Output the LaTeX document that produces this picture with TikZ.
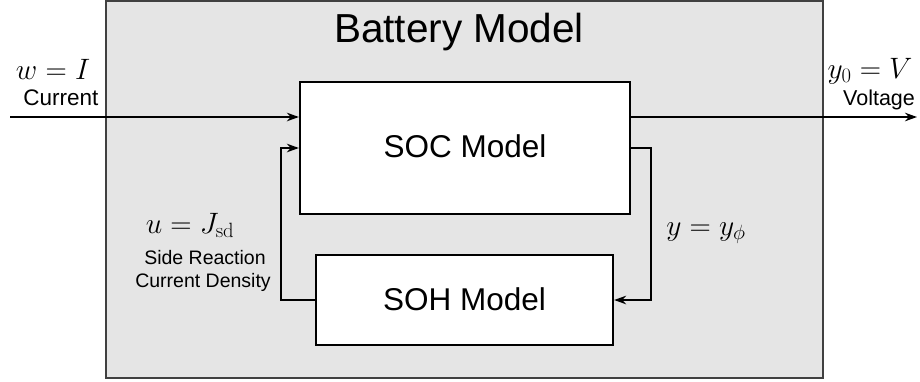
\RequirePackage{fix-cm}
\documentclass[tikz,border=0pt]{standalone}
\usepackage[no-math]{fontspec}
\setmainfont{Liberation Sans}
\usetikzlibrary{arrows.meta}
\definecolor{panel}{HTML}{E5E5E5}
\begin{document}
\begin{tikzpicture}[x=1pt,y=-1pt,
  blockbox/.style={draw=black,fill=white,line width=2.2pt,inner sep=0pt},
  conn/.style={line width=2.2pt,-{Stealth[length=12pt,width=8.5pt]}},
  txt/.style={inner sep=0pt,anchor=base},
  mathlbl/.style={inner sep=0pt,anchor=base,font=\fontsize{29.5}{34}\selectfont},
]
\useasboundingbox (0,0) rectangle (920,381);
% outer panel
\draw[fill=panel,draw=black!75,line width=1.2pt] (106,1) rectangle (823,378);
\node[txt,font=\fontsize{40.5}{48}\selectfont] (title) at (459,42.5) {Battery Model};
% blocks
\node[blockbox,minimum width=330pt,minimum height=132pt] (soc) at (465,148) {};
\node[txt,font=\fontsize{31.5}{36}\selectfont] (soctxt) at (465,157) {SOC Model};
\node[blockbox,minimum width=297pt,minimum height=90pt] (soh) at (464.5,300) {};
\node[txt,font=\fontsize{31.5}{36}\selectfont] (sohtxt) at (464.5,310) {SOH Model};
% coordinates
\coordinate (in) at (10,117);
\coordinate (out) at (917,117);
\coordinate (fl) at (281,148);
\coordinate (fr) at (651,148);
% connectors
\draw[conn] (in) -- (soc.west |- in);
\draw[conn] (soc.east |- out) -- (out);
\draw[conn] (soh.west) -| (fl) -- (soc.west |- fl);
\draw[conn] (soc.east |- fr) -- (fr) |- (soh.east);
% labels
\node[mathlbl] (wlbl) at (53,79) {$w=I$};
\node[txt,font=\fontsize{22.5}{26}\selectfont] (curlbl) at (61,105) {Current};
\node[mathlbl] (ylbl) at (870,78) {$y_0=V$};
\node[txt,font=\fontsize{21.5}{26}\selectfont] (voltlbl) at (879,105) {Voltage};
\node[mathlbl] (ulbl) at (190,233) {$u=J_{\mathrm{sd}}$};
\node[txt,font=\fontsize{19.5}{23}\selectfont] (sr1) at (205,264) {Side Reaction};
\node[txt,font=\fontsize{19.5}{23}\selectfont] (sr2) at (203,287) {Current Density};
\node[mathlbl] (yphi) at (706,235) {$y=y_\phi$};
\end{tikzpicture}
\end{document}
